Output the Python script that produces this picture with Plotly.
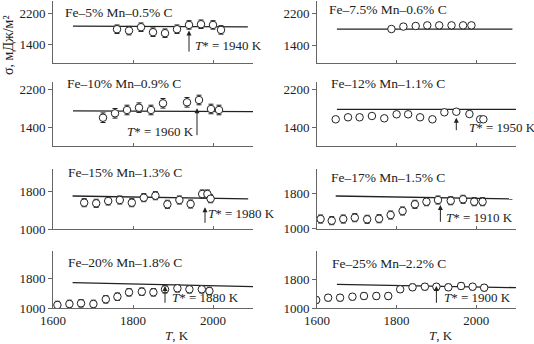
import plotly.graph_objects as go

W, H = 534, 344
FONT = "Liberation Serif, Times New Roman, serif"
INK = "#222222"
AX = "#666666"

# ---------------- data ----------------
labels = ["Fe–5% Mn–0.5% C", "Fe–7.5% Mn–0.6% C", "Fe–10% Mn–0.9% C", "Fe–12% Mn–1.1% C",
          "Fe–15% Mn–1.3% C", "Fe–17% Mn–1.5% C", "Fe–20% Mn–1.8% C", "Fe–25% Mn–2.2% C"]
t_star = [1940, None, 1960, 1950, 1980, 1910, 1880, 1900]

T1 = [1760, 1790, 1820, 1850, 1880, 1910, 1940, 1970, 2000, 2020]
S1 = [1787, 1751, 1839, 1710, 1684, 1787, 1898, 1916, 1898, 1769]
E1 = 110

T2 = [1787, 1817, 1848, 1877, 1907, 1938, 1967, 1988]
S2 = [1810, 1870, 1885, 1900, 1900, 1900, 1900, 1900]
E2 = 40

T3 = [1725, 1755, 1785, 1815, 1845, 1875, 1935, 1965, 1995, 2015]
S3 = [1608, 1700, 1769, 1817, 1769, 1908, 1929, 1977, 1790, 1769]
E3 = 100

T4 = [1647, 1678, 1707, 1738, 1769, 1800, 1829, 1859, 1890, 1920, 1950, 1983, 2010, 2018]
S4 = [1575, 1617, 1617, 1644, 1596, 1679, 1679, 1617, 1575, 1721, 1733, 1685, 1575, 1575]
E4 = 35

T5 = [1678, 1708, 1738, 1767, 1797, 1827, 1856, 1886, 1916, 1944, 1973, 1986, 1994]
S5 = [1563, 1550, 1599, 1620, 1563, 1669, 1711, 1529, 1620, 1535, 1747, 1747, 1647]
E5 = 85

T6 = [1609, 1637, 1666, 1695, 1726, 1756, 1785, 1815, 1846, 1875, 1904, 1936, 1967, 1995, 2016]
S6 = [1217, 1180, 1217, 1247, 1211, 1224, 1307, 1397, 1547, 1605, 1643, 1627, 1659, 1605, 1605]
E6 = 90

T7 = [1611, 1641, 1670, 1701, 1732, 1761, 1790, 1822, 1851, 1880, 1911, 1941, 1972, 1991]
S7 = [1080, 1107, 1125, 1107, 1232, 1301, 1419, 1435, 1419, 1499, 1525, 1499, 1499, 1453]
E7 = 100

T8 = [1598, 1628, 1658, 1689, 1718, 1749, 1779, 1809, 1840, 1871, 1900, 1930, 1962, 1991, 2020]
S8 = [1226, 1291, 1291, 1319, 1339, 1339, 1339, 1529, 1585, 1602, 1602, 1585, 1622, 1602, 1574]
E8 = 90

# model lines (start, end) for each panel
line_T = [[1650, 2087], [1650, 2091], [1650, 2100], [1650, 2100],
          [1649, 2088], [1647, 2091], [1649, 2100], [1650, 2100]]
line_S = [[1865, 1850], [1805, 1805], [1750, 1735], [1783, 1783],
          [1705, 1645], [1733, 1666], [1675, 1570], [1670, 1575]]

# arrow base / tip values and T* text position
arrow_base = [1168, None, 1213, 1317, 1105, 1122, 1099, 1104]
arrow_tip = [1751, None, 1804, 1608, 1465, 1531, 1587, 1622]
tstar_text_T = [1949, None, 1780, 1976, 1982, 1920, 1892, 1915]
tstar_text_S = [1364, None, 1317, 1400, 1338, 1247, 1285, 1302]
label_S = [2226, 2282, 2331, 2331, 2202, 2152, 2219, 2264]
label_T = [1626, 1626, 1630, 1630, 1632, 1630, 1632, 1632]

Ts = [T1, T2, T3, T4, T5, T6, T7, T8]
Ss = [S1, S2, S3, S4, S5, S6, S7, S8]
Es = [E1, E2, E3, E4, E5, E6, E7, E8]

x_range = [1600, 2100]
x_ticks = [1600, 1800, 2000]
y_ticks_rows = [[1400, 2200], [1400, 2200], [1000, 1800], [1000, 1800]]
y_ranges = [[905, 2517], [960, 2504], [1019, 2352], [1019, 2352],
            [1000, 2276], [987, 2338], [1000, 2520], [1000, 2611]]

# ---------------- layout geometry (pixels) ----------------
col_px = [(53, 253), (317, 516)]
row_px = [(1, 63.3), (82, 146), (169, 229.3), (251, 308)]

fig = go.Figure()
layout = dict(template="none", width=W, height=H, margin=dict(l=0, r=0, t=0, b=0, pad=0),
              paper_bgcolor="white", plot_bgcolor="white", showlegend=False,
              font=dict(family=FONT, size=13, color=INK))
annotations = []

for i in range(8):
    r, c = divmod(i, 2)
    n = i + 1
    xa = "xaxis" if n == 1 else f"xaxis{n}"
    ya = "yaxis" if n == 1 else f"yaxis{n}"
    xr = "x" if n == 1 else f"x{n}"
    yr = "y" if n == 1 else f"y{n}"
    x0, x1 = col_px[c]
    y0, y1 = row_px[r]
    layout[xa] = dict(domain=[x0 / W, x1 / W], range=x_range, anchor=yr, automargin=False,
                      tickvals=x_ticks, showticklabels=(r == 3), ticks="inside",
                      ticklen=3, tickcolor=AX, showline=True, linecolor=AX, linewidth=1,
                      showgrid=False, zeroline=False,
                      tickfont=dict(family=FONT, size=13, color=INK))
    layout[ya] = dict(domain=[1 - y1 / H, 1 - y0 / H], range=y_ranges[i], anchor=xr,
                      automargin=False,
                      tickvals=y_ticks_rows[r], ticks="outside", ticklen=4, tickcolor=AX,
                      showline=True, linecolor=AX, linewidth=1, showgrid=False,
                      zeroline=False, tickfont=dict(family=FONT, size=13, color=INK))

    fig.add_trace(go.Scatter(x=line_T[i], y=line_S[i], mode="lines",
                             line=dict(color=INK, width=1.3), xaxis=xr, yaxis=yr,
                             hoverinfo="skip"))
    fig.add_trace(go.Scatter(x=Ts[i], y=Ss[i], mode="markers",
                             marker=dict(symbol="circle", size=7.5, color="white",
                                         line=dict(color=INK, width=1)),
                             error_y=dict(type="constant", value=Es[i], color=INK,
                                          thickness=1, width=2.5),
                             xaxis=xr, yaxis=yr))

    annotations.append(dict(x=label_T[i], y=label_S[i], xref=xr, yref=yr,
                            text=labels[i], showarrow=False, xanchor="left",
                            yanchor="middle", font=dict(family=FONT, size=13.5, color=INK)))
    if t_star[i] is not None:
        annotations.append(dict(x=t_star[i], y=arrow_tip[i], ax=t_star[i], ay=arrow_base[i],
                                xref=xr, yref=yr, axref=xr, ayref=yr, text="",
                                showarrow=True, arrowhead=2, arrowsize=1, arrowwidth=1,
                                arrowcolor=INK))
        annotations.append(dict(x=tstar_text_T[i], y=tstar_text_S[i], xref=xr, yref=yr,
                                text=f"<i>T</i>* = {t_star[i]} K", showarrow=False,
                                xanchor="left", yanchor="middle",
                                font=dict(family=FONT, size=13, color=INK)))

annotations.append(dict(x=8 / W, y=1 - 45 / H, xref="paper", yref="paper",
                        text="σ, мДж/м²", textangle=-90, showarrow=False,
                        xanchor="center", yanchor="middle",
                        font=dict(family=FONT, size=14, color=INK)))
for cx in (177, 441):
    annotations.append(dict(x=cx / W, y=1 - 335 / H, xref="paper", yref="paper",
                            text="<i>T</i>, K", showarrow=False, xanchor="center",
                            yanchor="middle", font=dict(family=FONT, size=13, color=INK)))

layout["annotations"] = annotations
fig.update_layout(**layout)
fig.write_html("out.html")
